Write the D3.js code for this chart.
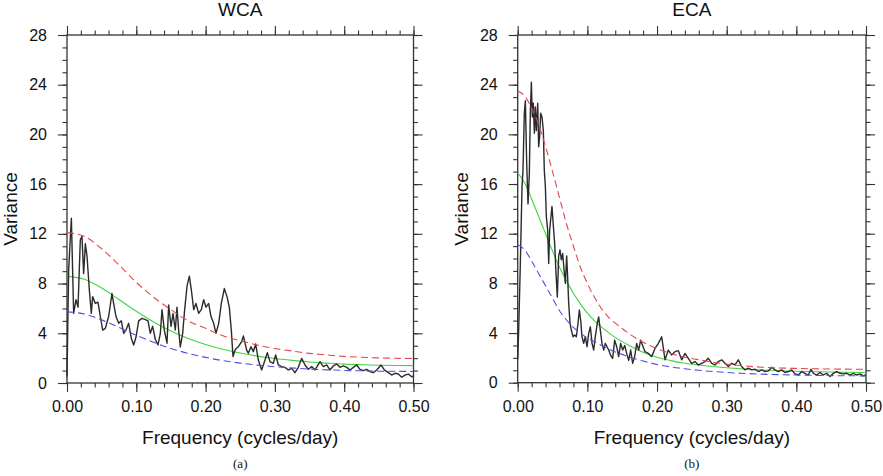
<!DOCTYPE html>
<html>
<head>
<meta charset="utf-8">
<script src="https://cdn.jsdelivr.net/npm/d3@7"></script>
<style>
  body { margin: 0; background: #fff; }
  svg text { font-family: "Liberation Sans", Arial, sans-serif; fill: #111; }
</style>
</head>
<body>
<svg id="chart" width="883" height="476"></svg>
<script>
// WCA spectrum (frequency, variance)
const wcaFreq = [0, 0.0024, 0.0063, 0.0096, 0.013, 0.0159, 0.0192, 0.0216, 0.024, 0.0265, 0.0289, 0.0322, 0.0351, 0.037, 0.0409, 0.0447, 0.0481, 0.0515, 0.0553, 0.0601, 0.0649, 0.0673, 0.0707, 0.0746, 0.0784, 0.0818, 0.0851, 0.089, 0.0928, 0.0962, 0.0996, 0.1034, 0.1082, 0.113, 0.1169, 0.1202, 0.1236, 0.1275, 0.1313, 0.1347, 0.1371, 0.1404, 0.1443, 0.1467, 0.1501, 0.153, 0.1563, 0.1587, 0.1611, 0.1635, 0.1669, 0.1698, 0.1732, 0.1765, 0.1794, 0.1828, 0.1861, 0.19, 0.1938, 0.1972, 0.2006, 0.2044, 0.2078, 0.2116, 0.215, 0.2189, 0.2227, 0.227, 0.2309, 0.2342, 0.2371, 0.2395, 0.2429, 0.2472, 0.252, 0.2545, 0.2593, 0.2617, 0.2655, 0.2689, 0.2722, 0.2761, 0.2809, 0.2857, 0.2891, 0.2929, 0.2977, 0.3011, 0.305, 0.3098, 0.3146, 0.3194, 0.3242, 0.329, 0.3338, 0.3386, 0.3434, 0.3482, 0.3531, 0.3579, 0.3651, 0.3699, 0.3747, 0.3795, 0.3843, 0.3891, 0.3939, 0.3987, 0.4036, 0.4084, 0.4132, 0.418, 0.4228, 0.4276, 0.4324, 0.4372, 0.442, 0.4469, 0.4531, 0.4579, 0.4637, 0.4685, 0.4733, 0.4781, 0.4829, 0.4877, 0.4925, 0.4974, 0.5]
const wcaVar = [0.5, 9.1, 13.25, 5.6, 6.7, 6.1, 11.5, 11.8, 8.8, 11.2, 10.2, 7.5, 5.6, 6.95, 6.4, 6.5, 5.35, 4.26, 4.4, 5.35, 7.2, 6.4, 5.35, 4.8, 5.0, 4.0, 4.26, 4.8, 3.6, 3.06, 3.7, 5.0, 5.2, 5.1, 5.0, 4.0, 4.56, 3.5, 3.06, 4.0, 5.9, 4.26, 3.2, 6.27, 4.56, 5.6, 4.26, 6.1, 4.26, 2.9, 4.0, 5.9, 7.8, 8.6, 7.5, 5.9, 6.4, 5.6, 5.9, 6.7, 6.1, 6.4, 5.35, 4.8, 4.0, 4.8, 6.4, 7.6, 6.95, 6.1, 4.26, 2.13, 2.7, 2.92, 3.32, 3.78, 2.65, 2.4, 2.92, 2.52, 3.14, 1.85, 1.05, 1.85, 2.44, 1.72, 1.58, 2.25, 1.45, 1.32, 1.26, 1.05, 1.18, 0.83, 1.26, 1.98, 1.45, 1.1, 1.32, 1.05, 1.72, 1.32, 1.45, 1.05, 1.37, 1.53, 1.26, 1.37, 1.26, 1.05, 1.26, 1.45, 1.1, 1.0, 1.1, 0.91, 0.83, 1.05, 1.45, 1.05, 0.83, 0.64, 0.78, 0.72, 0.46, 0.64, 0.72, 0.5, 0.55]

// ECA spectrum
const ecaFreq = [0, 0.0014, 0.0038, 0.0062, 0.0076, 0.0095, 0.011, 0.0129, 0.0148, 0.0167, 0.0181, 0.0196, 0.021, 0.0224, 0.0239, 0.0253, 0.0267, 0.0287, 0.0301, 0.0315, 0.033, 0.0349, 0.0368, 0.0382, 0.0397, 0.0411, 0.043, 0.0445, 0.0459, 0.0478, 0.0492, 0.0512, 0.0531, 0.055, 0.0569, 0.0588, 0.0607, 0.0626, 0.0646, 0.0665, 0.0684, 0.0703, 0.0717, 0.0732, 0.0751, 0.077, 0.0794, 0.0818, 0.0842, 0.0866, 0.0885, 0.0904, 0.0923, 0.0947, 0.0971, 0.0995, 0.1019, 0.1043, 0.1067, 0.1091, 0.1114, 0.1143, 0.1162, 0.1186, 0.121, 0.1234, 0.1258, 0.1282, 0.1306, 0.1335, 0.1363, 0.1392, 0.1421, 0.1449, 0.1478, 0.1507, 0.1536, 0.1564, 0.1593, 0.1622, 0.165, 0.1679, 0.1708, 0.1737, 0.1765, 0.1827, 0.1875, 0.1923, 0.1971, 0.2019, 0.2067, 0.2115, 0.2162, 0.221, 0.2258, 0.2306, 0.2354, 0.2402, 0.2449, 0.2497, 0.2545, 0.2593, 0.2641, 0.2689, 0.2737, 0.2785, 0.2832, 0.288, 0.2928, 0.2976, 0.3024, 0.3072, 0.3119, 0.3167, 0.3215, 0.3263, 0.3311, 0.3359, 0.3407, 0.3454, 0.3502, 0.355, 0.3598, 0.3646, 0.3694, 0.3741, 0.3789, 0.3837, 0.3885, 0.3933, 0.3981, 0.4029, 0.4077, 0.4124, 0.4172, 0.421, 0.4244, 0.4292, 0.434, 0.4387, 0.4435, 0.4483, 0.4531, 0.4579, 0.4627, 0.4675, 0.4723, 0.477, 0.4818, 0.4866, 0.4914, 0.4962, 0.5]
const ecaVar = [1.9, 4.24, 9.6, 15.8, 17.1, 21.7, 22.7, 17.65, 14.4, 16.8, 21.7, 24.2, 21.4, 22.5, 20.1, 22.2, 20.3, 22.5, 19.0, 19.8, 21.7, 21.4, 20.3, 17.1, 15.8, 13.4, 12.3, 9.6, 12.3, 13.4, 14.2, 12.6, 11.2, 8.8, 6.9, 10.2, 10.7, 9.9, 10.4, 9.1, 8.0, 10.2, 8.5, 6.4, 4.8, 4.24, 3.7, 3.84, 3.7, 4.8, 5.85, 5.05, 3.7, 3.17, 3.7, 2.9, 3.97, 4.5, 3.17, 2.63, 3.7, 4.8, 5.3, 4.24, 3.17, 2.63, 3.17, 2.9, 2.63, 2.2, 1.95, 3.43, 2.9, 2.1, 3.17, 2.63, 3.0, 2.36, 1.8, 2.63, 1.56, 2.1, 3.17, 2.63, 3.43, 2.5, 2.36, 2.1, 2.76, 3.17, 3.7, 1.84, 2.63, 2.23, 2.5, 2.58, 1.84, 2.36, 1.96, 1.56, 1.7, 1.43, 1.56, 1.7, 1.96, 1.56, 1.43, 1.7, 1.84, 1.56, 1.3, 1.56, 1.43, 1.84, 1.3, 1.03, 1.17, 1.03, 1.08, 0.9, 1.03, 0.9, 0.95, 1.24, 1.03, 0.9, 1.03, 0.82, 0.9, 1.03, 0.71, 0.62, 0.9, 0.76, 0.62, 1.08, 0.76, 0.62, 0.82, 0.62, 0.76, 0.49, 0.76, 0.9, 0.76, 0.71, 0.76, 0.62, 0.76, 0.62, 0.71, 0.55, 0.62]

// theoretical red-noise spectrum and bounds
const wcaCurveFreq = [0, 0.025, 0.05, 0.075, 0.1, 0.125, 0.15, 0.175, 0.2, 0.225, 0.25, 0.275, 0.3, 0.325, 0.35, 0.375, 0.4, 0.425, 0.45, 0.475, 0.5]
const wcaUpper = [12.1, 11.8, 10.8, 9.5, 8.1, 6.9, 5.9, 5.0, 4.4, 3.8, 3.4, 3.05, 2.78, 2.57, 2.38, 2.26, 2.14, 2.07, 2.02, 1.99, 1.97]
const wcaMean = [8.6, 8.34, 7.64, 6.72, 5.77, 4.91, 4.18, 3.58, 3.1, 2.71, 2.41, 2.16, 1.97, 1.82, 1.69, 1.6, 1.52, 1.47, 1.43, 1.41, 1.4]
const wcaLower = [5.72, 5.55, 5.08, 4.47, 3.84, 3.27, 2.78, 2.38, 2.06, 1.8, 1.6, 1.44, 1.31, 1.21, 1.12, 1.06, 1.01, 0.98, 0.95, 0.94, 0.93]

const ecaCurveFreq = [0, 0.01, 0.02, 0.03, 0.04, 0.05, 0.06, 0.07, 0.08, 0.09, 0.1, 0.11, 0.12, 0.13, 0.14, 0.16, 0.18, 0.2, 0.22, 0.24, 0.26, 0.28, 0.3, 0.32, 0.35, 0.4, 0.45, 0.5]
const ecaUpper = [23.5, 23.1, 22.1, 20.8, 19.0, 17.0, 14.9, 12.8, 11.0, 9.3, 8.0, 6.9, 6.0, 5.3, 4.8, 3.95, 3.25, 2.75, 2.35, 2.05, 1.85, 1.65, 1.5, 1.38, 1.25, 1.15, 1.1, 1.08]
const ecaMean = [16.9, 16.1, 14.8, 13.4, 12.0, 10.6, 9.3, 8.2, 7.2, 6.35, 5.6, 5.0, 4.5, 4.05, 3.65, 3.0, 2.45, 2.05, 1.78, 1.57, 1.42, 1.3, 1.2, 1.12, 1.02, 0.92, 0.86, 0.82]
const ecaLower = [11.1, 10.7, 9.8, 8.8, 7.8, 6.8, 5.8, 5.05, 4.45, 4.0, 3.6, 3.3, 3.0, 2.72, 2.48, 2.08, 1.75, 1.47, 1.27, 1.12, 1.0, 0.9, 0.82, 0.76, 0.69, 0.62, 0.57, 0.55]

const xTicks = [0, 0.1, 0.2, 0.3, 0.4, 0.5]
const yTicks = [0, 4, 8, 12, 16, 20, 24, 28]

const svg = d3.select("#chart")
svg.append("rect").attr("width", 883).attr("height", 476).attr("fill", "#fff")

function drawPanel(p){
  const g = svg.append("g")
  const x = d3.scaleLinear().domain([0, 0.5]).range([p.left, p.right])
  const y = d3.scaleLinear().domain([0, 28]).range([p.bottom, p.top])
  const w = p.right - p.left, h = p.bottom - p.top

  // outward ticks on all four sides, minor first
  const minorX = d3.range(0, 0.5001, 0.02)
  const minorY = d3.range(0, 28.001, 1)
  const tickCol = "#333"
  g.append("g").attr("transform", `translate(0,${p.bottom})`)
    .call(d3.axisBottom(x).tickValues(minorX).tickSize(4.5).tickFormat(""))
  g.append("g").attr("transform", `translate(0,${p.top})`)
    .call(d3.axisTop(x).tickValues(minorX).tickSize(4.5).tickFormat(""))
  g.append("g").attr("transform", `translate(${p.left},0)`)
    .call(d3.axisLeft(y).tickValues(minorY).tickSize(4.5).tickFormat(""))
  g.append("g").attr("transform", `translate(${p.right},0)`)
    .call(d3.axisRight(y).tickValues(minorY).tickSize(4.5).tickFormat(""))

  g.append("g").attr("class", "xb").attr("transform", `translate(0,${p.bottom})`)
    .call(d3.axisBottom(x).tickValues(xTicks).tickSize(9).tickPadding(9).tickFormat(d3.format(".2f")))
  g.append("g").attr("transform", `translate(0,${p.top})`)
    .call(d3.axisTop(x).tickValues(xTicks).tickSize(9).tickFormat(""))
  g.append("g").attr("class", "yl").attr("transform", `translate(${p.left},0)`)
    .call(d3.axisLeft(y).tickValues(yTicks).tickSize(9).tickPadding(11).tickFormat(d3.format("d")))
  g.append("g").attr("transform", `translate(${p.right},0)`)
    .call(d3.axisRight(y).tickValues(yTicks).tickSize(9).tickFormat(""))

  g.selectAll(".domain").remove()
  g.selectAll(".tick line").attr("stroke", tickCol).attr("stroke-width", 1.1)
  g.selectAll(".tick text").attr("font-size", 16).attr("fill", "#111")
    .attr("font-family", "Liberation Sans, Arial, sans-serif")

  g.append("rect").attr("x", p.left).attr("y", p.top).attr("width", w).attr("height", h)
    .attr("fill", "none").attr("stroke", tickCol).attr("stroke-width", 1.3)

  const curve = (fs, vs) => d3.line().x((d, i) => x(fs[i])).y(d => y(d)).curve(d3.curveMonotoneX)(vs)
  const spec = d3.line().x((d, i) => x(p.freq[i])).y(d => y(d))

  g.append("path").attr("d", curve(p.cf, p.mean)).attr("fill", "none")
    .attr("stroke", "#3fd43f").attr("stroke-width", 1.1)
  g.append("path").attr("d", spec(p.vals)).attr("fill", "none")
    .attr("stroke", "#2b2b2b").attr("stroke-width", 1.4).attr("stroke-linejoin", "round")
  g.append("path").attr("d", curve(p.cf, p.upper)).attr("fill", "none")
    .attr("stroke", "#e4454c").attr("stroke-width", 1.1).attr("stroke-dasharray", "7,4")
  g.append("path").attr("d", curve(p.cf, p.lower)).attr("fill", "none")
    .attr("stroke", "#4f4fde").attr("stroke-width", 1.1).attr("stroke-dasharray", "7,4")

  const cx = (p.left + p.right) / 2
  g.append("text").attr("x", cx).attr("y", 16).attr("text-anchor", "middle")
    .attr("font-size", 19).text(p.title)
  g.append("text").attr("x", cx).attr("y", 444).attr("text-anchor", "middle")
    .attr("font-size", 19).text("Frequency (cycles/day)")
  g.append("text").attr("transform", `translate(${p.left - 50},${(p.top + p.bottom) / 2}) rotate(-90)`)
    .attr("text-anchor", "middle").attr("font-size", 19).text("Variance")
  g.append("text").attr("x", cx).attr("y", 468).attr("text-anchor", "middle")
    .attr("font-size", 13).style("font-family", "Liberation Serif, Times New Roman, serif").text(p.tag)
}

drawPanel({left: 67, right: 413.5, top: 35, bottom: 383, title: "WCA", tag: "(a)",
  freq: wcaFreq, vals: wcaVar, cf: wcaCurveFreq, upper: wcaUpper, mean: wcaMean, lower: wcaLower})
drawPanel({left: 517.7, right: 866, top: 35, bottom: 382.7, title: "ECA", tag: "(b)",
  freq: ecaFreq, vals: ecaVar, cf: ecaCurveFreq, upper: ecaUpper, mean: ecaMean, lower: ecaLower})
</script>
</body>
</html>
